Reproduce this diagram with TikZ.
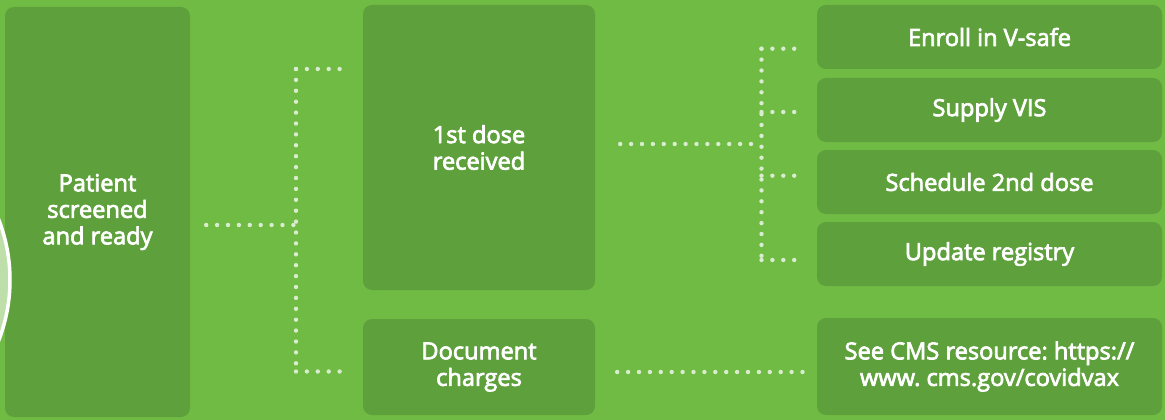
\documentclass[tikz,border=0pt]{standalone}
\usepackage{fontspec}
\setmainfont{Open Sans}
\newfontfamily\semifont{Open Sans}[FakeBold=3]
\usepackage{xcolor}
\usetikzlibrary{calc}
\definecolor{leaf}{HTML}{70BB44}
\definecolor{moss}{HTML}{5EA13C}
\definecolor{mist}{HTML}{D9ECCF}
\definecolor{pale}{HTML}{BFDFAA}
\tikzset{
	stepbox/.style={fill=moss,rounded corners=9pt,text=white,align=center,inner sep=0pt,%
		font=\semifont\fontsize{23.6}{26.5}\selectfont\frenchspacing},%
	dots/.style={mist,line width=4.4pt,line cap=round,dash pattern=on 0pt off 10.9pt},%
	ring/.style={draw=white,fill=pale,line width=3.5pt},%
}
\def\rightx{989.5}
\def\rightw{345}

\begin{document}
\begin{tikzpicture}[x=1pt,y=-1pt]
		\useasboundingbox (0,0) rectangle (1165,420);
		\clip (0,0) rectangle (1165,420);
		\fill[leaf] (0,0) rectangle (1165,420);
		% Boxes {{{
		\node[stepbox,minimum width=185,minimum height=410] (patient) at (97.5,212) {Patient\\screened\\and ready};
		\node[stepbox,minimum width=232,minimum height=285] (dose) at (479,147.5) {1st dose\\received};
		\node[stepbox,minimum width=232,minimum height=96] (charges) at (479,367) {Document\\charges};
		\node[stepbox,minimum width=\rightw,minimum height=64] (vsafe) at (\rightx,37) {Enroll in V-safe};
		\node[stepbox,minimum width=\rightw,minimum height=64] (vis) at (\rightx,110) {Supply VIS};
		\node[stepbox,minimum width=\rightw,minimum height=64] (second) at (\rightx,182) {Schedule 2nd dose};
		\node[stepbox,minimum width=\rightw,minimum height=64] (registry) at (\rightx,254) {Update registry};
		\node[stepbox,minimum width=\rightw,minimum height=97] (cms) at (\rightx,366.5) {See CMS resource: https://\\www. cms.gov/covidvax};
		\path[ring] (-157,280) circle(167);
		% }}}
		% Connectors {{{
		\coordinate (forkA) at (296,225);
		\coordinate (forkAtop) at (296,69);
		\coordinate (forkAbot) at (296,371.5);
		\draw[dots] ($(patient.east|-forkA)+(16,0)$) -- (forkA);
		\draw[dots] (forkAtop) -- (forkAbot);
		\draw[dots] (forkAtop) -- ($(forkAtop-|dose.west)+(-23,0)$)
			(forkAbot) -- ($(forkAbot-|charges.west)+(-23,0)$);
		\coordinate (forkB) at (761.5,144);
		\coordinate (forkBtop) at (761.5,48.7);
		\coordinate (forkBbot) at (761.5,260);
		\draw[dots] ($(dose.east|-forkB)+(25,0)$) -- (forkB);
		\draw[dots] (forkBtop) -- (forkBbot);
		\draw[dots] (forkBtop) -- ($(forkBtop-|vsafe.west)+(-12,0)$)
			(forkBbot) -- ($(forkBbot-|registry.west)+(-12,0)$);
		\draw[dots] ($(forkB|-0,112)$) -- ($(vis.west|-0,112)+(-12,0)$)
			($(forkB|-0,175.7)$) -- ($(second.west|-0,175.7)+(-12,0)$);
		\draw[dots] ($(charges.east)+(22,5)$) -- ($(cms.west)+(-12,5.5)$);
		% }}}
	\end{tikzpicture}
\end{document}
